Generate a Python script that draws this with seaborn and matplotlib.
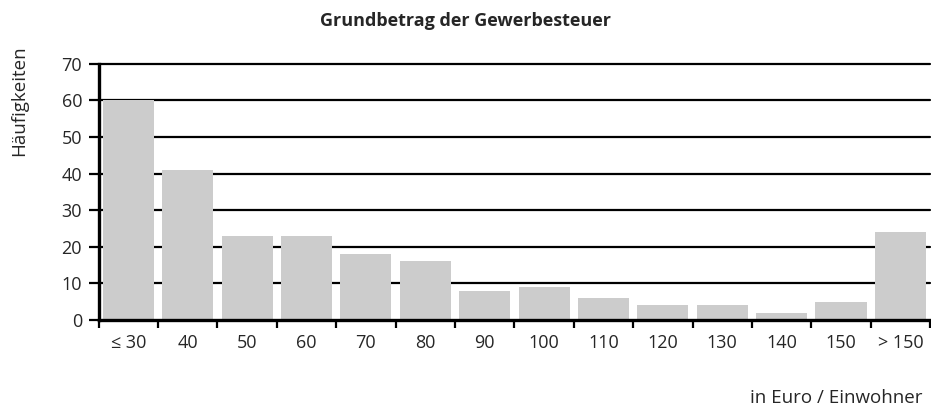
import matplotlib
matplotlib.use("Agg")
import matplotlib.pyplot as plt
import seaborn as sns
import pandas as pd
import numpy as np

# Data
categories = ["\u2264 30", "40", "50", "60", "70", "80", "90", "100",
              "110", "120", "130", "140", "150", "> 150"]
counts = [60, 41, 23, 23, 18, 16, 8, 9, 6, 4, 4, 2, 5, 24]
y_ticks = [0, 10, 20, 30, 40, 50, 60, 70]

df = pd.DataFrame({"klasse": categories, "anzahl": counts})

sns.set_theme(style="white")
plt.rcParams["font.family"] = ["Open Sans", "DejaVu Sans"]

fig = plt.figure(figsize=(9.31, 4.09), dpi=100)
ax = fig.add_axes([0.106, 0.218, 0.893, 0.626])

sns.barplot(data=df, x="klasse", y="anzahl", color="#cccccc",
            saturation=1, width=0.86, ax=ax, zorder=3, linewidth=0)

# horizontal grid lines in black behind the bars
for yv in y_ticks[1:]:
    ax.axhline(yv, color="black", lw=1.6, zorder=1, clip_on=False)

ax.set_ylim(0, 70)
ax.set_xlim(-0.5, len(categories) - 0.5)
ax.set_yticks(y_ticks)

# tick marks at category boundaries, labels at centers
ax.set_xticks(np.arange(len(categories)))
ax.set_xticklabels(categories, fontsize=13)
ax.set_xticks(np.arange(len(categories) + 1) - 0.5, minor=True)
ax.tick_params(axis="x", which="major", length=0, pad=10)
ax.tick_params(axis="x", which="minor", length=6, width=1.6,
               color="black", direction="out", bottom=True)
ax.tick_params(axis="y", length=7, width=1.6, color="black",
               direction="out", left=True, labelsize=13, pad=5)

for side in ["top", "right"]:
    ax.spines[side].set_visible(False)
for side in ["left", "bottom"]:
    ax.spines[side].set_color("black")
    ax.spines[side].set_linewidth(2.4)
    ax.spines[side].set_zorder(4)

ax.set_xlabel("")
ax.set_ylabel("")
fig.text(0.021, 0.755, "H\u00e4ufigkeiten", rotation=90, ha="center",
         va="center", fontsize=13.5)
fig.text(0.5, 0.948, "Grundbetrag der Gewerbesteuer", ha="center",
         va="center", fontsize=13, fontweight="bold")
fig.text(0.991, 0.027, "in Euro / Einwohner", ha="right", va="center",
         fontsize=13.5)

fig.savefig("out.png", dpi=100)
